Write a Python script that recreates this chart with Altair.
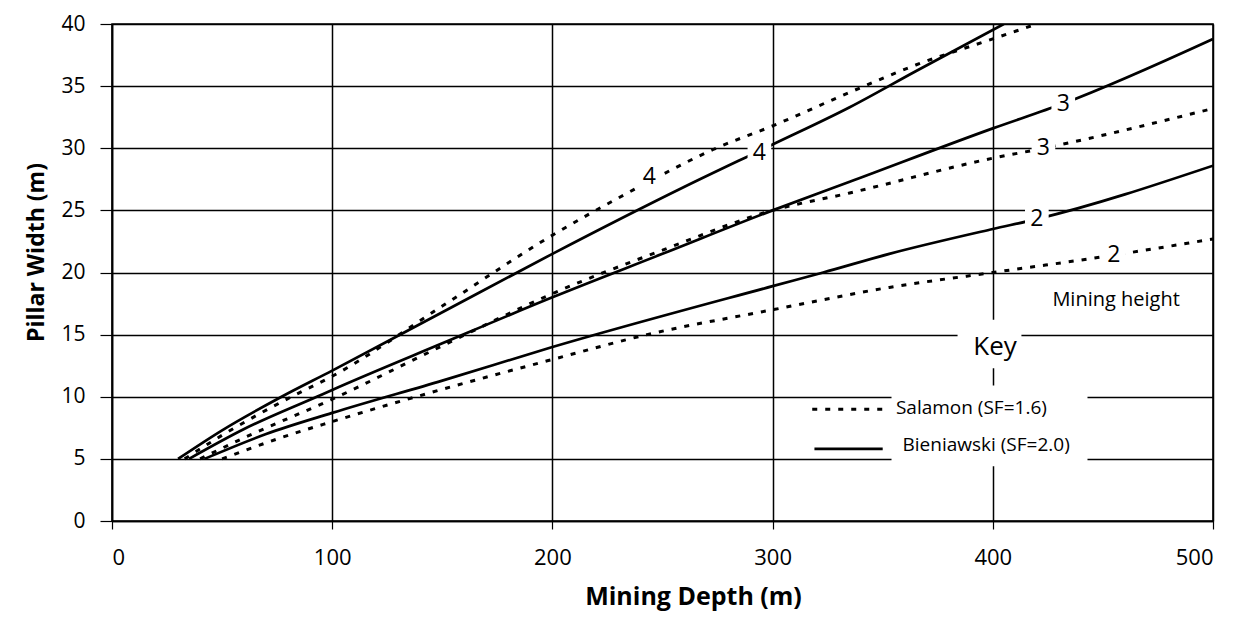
import altair as alt
import pandas as pd

# ---- data ----
# Bieniawski (SF=2.0), solid
S4_x = [30, 50, 77, 100, 150, 200, 260, 300, 335, 365, 405]
S4_y = [5, 7.3, 10, 12.1, 16.8, 21.5, 26.9, 30.3, 33.3, 36.2, 40]
S3_x = [35, 60, 93, 100, 150, 200, 250, 300, 335, 400, 432, 500]
S3_y = [5, 7.4, 10, 10.55, 14.3, 18.0, 21.5, 25.0, 27.3, 31.6, 33.6, 38.8]
S2_x = [42, 70, 100, 150, 200, 300, 323, 353, 400, 420, 500]
S2_y = [5, 7.0, 8.7, 11.3, 14.0, 18.9, 20.0, 21.5, 23.5, 24.3, 28.6]
# Salamon (SF=1.6), dashed
D4_x = [33, 50, 81.5, 100, 150, 200, 231, 249, 273, 300, 335, 365, 400, 420]
D4_y = [5, 6.9, 10, 11.65, 17.3, 23.0, 26.1, 27.8, 29.9, 31.8, 34.5, 36.7, 38.8, 40]
D3_x = [40, 60, 100, 150, 200, 250, 300, 335, 400, 423, 500]
D3_y = [5, 6.7, 9.8, 14.1, 18.3, 21.8, 25.0, 26.4, 29.2, 30.0, 33.2]
D2_x = [50, 75, 100, 150, 200, 243, 300, 353, 400, 455, 500]
D2_y = [5, 6.6, 8.0, 10.6, 13.0, 15.0, 17.0, 18.8, 20.0, 21.4, 22.7]

# curve labels (mining height)
lab_text = ["4", "4", "3", "3", "2", "2"]
lab_x = [244, 294, 432, 423, 420, 455]
lab_y = [27.7, 29.6, 33.6, 30.0, 24.3, 21.4]

x_ticks = [0, 100, 200, 300, 400, 500]
y_ticks = [0, 5, 10, 15, 20, 25, 30, 35, 40]

FONT = "Open Sans"

rows = []
for name, xs, ys in [("S4", S4_x, S4_y), ("S3", S3_x, S3_y), ("S2", S2_x, S2_y),
                     ("D4", D4_x, D4_y), ("D3", D3_x, D3_y), ("D2", D2_x, D2_y)]:
    for i, (a, b) in enumerate(zip(xs, ys)):
        rows.append({"curve": name, "method": "Salamon" if name[0] == "D" else "Bieniawski",
                     "depth": a, "width": b, "order": i})
df = pd.DataFrame(rows)

xsc = alt.Scale(domain=[0, 500], nice=False)
ysc = alt.Scale(domain=[0, 40], nice=False)

base = alt.Chart(df)

solid = base.transform_filter(alt.datum.method == "Bieniawski").mark_line(
    color="black", strokeWidth=2.7, clip=True, interpolate="monotone"
).encode(
    x=alt.X("depth:Q", scale=xsc, axis=alt.Axis(
        values=x_ticks, title="Mining Depth (m)", grid=True, gridColor="black",
        gridWidth=1.5, gridOpacity=1, domainColor="black", domainWidth=1.6,
        tickColor="black", tickSize=8, tickWidth=1.2, labelPadding=18,
        labelFont=FONT, labelFontSize=22, labelColor="black",
        titleFont=FONT, titleFontSize=25, titleFontWeight="bold", titleColor="black",
        titlePadding=16, titleX=581)),
    y=alt.Y("width:Q", scale=ysc, axis=alt.Axis(
        values=y_ticks, title="Pillar Width (m)", grid=True, gridColor="black",
        gridWidth=1.5, gridOpacity=1, domainColor="black", domainWidth=1.6,
        tickColor="black", tickSize=12, tickWidth=1.2, labelPadding=15,
        labelFont=FONT, labelFontSize=21, labelColor="black",
        titleFont=FONT, titleFontSize=23, titleFontWeight="bold", titleColor="black",
        titleY=228, titlePadding=12)),
    detail="curve:N", order="order:Q",
)

dashed = base.transform_filter(alt.datum.method == "Salamon").mark_line(
    color="black", strokeWidth=3, strokeDash=[5, 8], clip=True, interpolate="monotone"
).encode(x=alt.X("depth:Q", scale=xsc), y=alt.Y("width:Q", scale=ysc),
         detail="curve:N", order="order:Q")

labels_df = pd.DataFrame({"t": lab_text, "x": lab_x, "y": lab_y})
lab_bg = alt.Chart(labels_df).mark_square(color="white", opacity=1, size=560).encode(
    x=alt.X("x:Q", scale=xsc), y=alt.Y("y:Q", scale=ysc))
lab_txt = alt.Chart(labels_df).mark_text(font=FONT, fontSize=23, color="black").encode(
    x=alt.X("x:Q", scale=xsc), y=alt.Y("y:Q", scale=ysc), text="t:N")

# key boxes (white patches that interrupt the grid)
box_x = [384, 354]
box_x2 = [413, 443]
box_y = [12.3, 4.4]
box_y2 = [16.2, 10.9]
boxes = alt.Chart(pd.DataFrame({"x": box_x, "x2": box_x2, "y": box_y, "y2": box_y2})).mark_rect(
    color="white", opacity=1).encode(
    x=alt.X("x:Q", scale=xsc), x2="x2:Q", y=alt.Y("y:Q", scale=ysc), y2="y2:Q")

# key texts
key_text = ["Mining height", "Key", "Salamon  (SF=1.6)", "Bieniawski (SF=2.0)"]
key_x = [456, 401, 356, 359]
key_y = [17.8, 14.0, 9.1, 6.1]
key_size = [20, 26, 19, 19]
key_align = ["center", "center", "left", "left"]
kdf = pd.DataFrame({"t": key_text, "x": key_x, "y": key_y, "s": key_size, "a": key_align})
key_c = alt.Chart(kdf[kdf.a == "center"]).mark_text(font=FONT, color="black", align="center").encode(
    x=alt.X("x:Q", scale=xsc), y=alt.Y("y:Q", scale=ysc), text="t:N",
    size=alt.Size("s:Q", scale=None, legend=None))
key_l = alt.Chart(kdf[kdf.a == "left"]).mark_text(font=FONT, color="black", align="left").encode(
    x=alt.X("x:Q", scale=xsc), y=alt.Y("y:Q", scale=ysc), text="t:N",
    size=alt.Size("s:Q", scale=None, legend=None))

# key line samples
samp = pd.DataFrame({"x": [318, 319], "x2": [350, 350], "y": [9.0, 5.8],
                     "m": ["Salamon", "Bieniawski"]})
samp_d = alt.Chart(samp[samp.m == "Salamon"]).mark_rule(
    color="black", strokeWidth=3, strokeDash=[5, 8]).encode(
    x=alt.X("x:Q", scale=xsc), x2="x2:Q", y=alt.Y("y:Q", scale=ysc))
samp_s = alt.Chart(samp[samp.m == "Bieniawski"]).mark_rule(
    color="black", strokeWidth=2.7).encode(
    x=alt.X("x:Q", scale=xsc), x2="x2:Q", y=alt.Y("y:Q", scale=ysc))

chart = alt.layer(
    solid, dashed, boxes, lab_bg, lab_txt, key_c, key_l, samp_d, samp_s
).properties(
    width=1101, height=497,
    autosize=alt.AutoSizeParams(type="none"),
    padding={"left": 104, "top": 16, "right": 26, "bottom": 106},
    background="white",
).configure_view(stroke="black", strokeWidth=1.6)

chart.save("out.html", embed_options={"renderer": "svg", "actions": False})
